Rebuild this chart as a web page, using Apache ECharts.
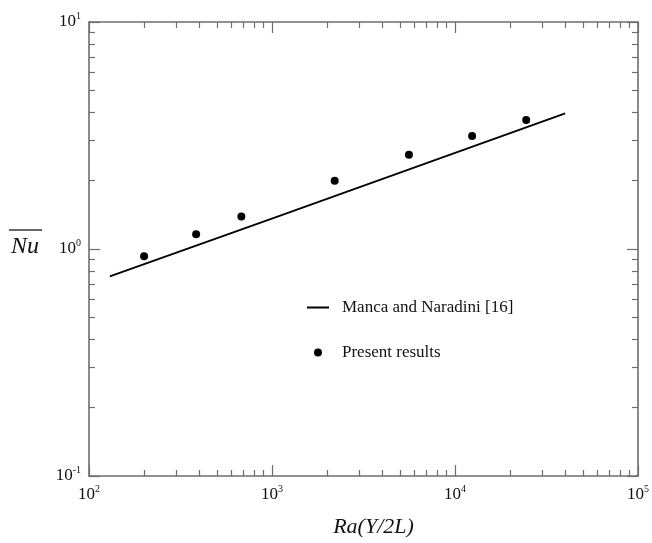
<!DOCTYPE html>
<html>
<head>
<meta charset="utf-8">
<script src="https://cdn.jsdelivr.net/npm/echarts@6/dist/echarts.min.js"></script>
<style>html,body{margin:0;padding:0;background:#fff;}#c{width:652px;height:543px;}</style>
</head>
<body>
<div id="c"></div>
<script>
// Data
const raPresent = [200, 385, 680, 2200, 5600, 12400, 24500];
const nuPresent = [0.93, 1.16, 1.39, 2.0, 2.6, 3.15, 3.7];
const raManca = [130, 1100, 40000];
const nuManca = [0.757, 1.40, 3.96];
const seriesNames = ['Manca and Naradini [16]', 'Present results'];
const xDecades = [2, 3, 4, 5];      // tick labels 10^2 .. 10^5
const yDecades = [-1, 0, 1];        // tick labels 10^-1 .. 10^1
const minorMult = [2, 3, 4, 5, 6, 7, 8, 9];

const FONT = '"Liberation Serif", "DejaVu Serif", serif';
const AX = '#6e6e6e';

function minorLog(decs) {
  const out = [];
  for (let i = 0; i < decs.length - 1; i++)
    for (const m of minorMult) out.push(decs[i] + Math.log10(m));
  return out;
}
const xMinor = minorLog(xDecades);
const yMinor = minorLog(yDecades);

const pow = (v) => '{b|10}{s|' + Math.round(Math.log10(v)) + '}';
const rich = {
  b: {fontFamily: FONT, fontSize: 17, color: '#111', lineHeight: 22},
  s: {fontFamily: FONT, fontSize: 10, color: '#111', lineHeight: 12, verticalAlign: 'top'}
};

function logAxis(dec, pos, withLabels, extra) {
  return Object.assign({
    type: 'log', logBase: 10,
    min: Math.pow(10, dec[0]), max: Math.pow(10, dec[dec.length - 1]),
    position: pos,
    axisLine: {show: true, onZero: false, lineStyle: {color: AX, width: 1.6}},
    axisTick: {show: true, inside: true, length: 11, lineStyle: {color: AX, width: 1.2}},
    axisLabel: withLabels ? {show: true, formatter: pow, rich: rich, margin: 8} : {show: false},
    splitLine: {show: false},
    minorTick: {show: false}
  }, extra || {});
}
function minorAxis(dec, minors, pos) {
  return {
    type: 'value', min: dec[0], max: dec[dec.length - 1], position: pos,
    axisLine: {show: false, onZero: false},
    axisTick: {show: true, inside: true, length: 6, customValues: minors, lineStyle: {color: AX, width: 1.2}},
    axisLabel: {show: false},
    splitLine: {show: false}
  };
}

const chart = echarts.init(document.getElementById('c'), null, {renderer: 'canvas'});
chart.setOption({
  backgroundColor: '#fff',
  animation: false,
  grid: {left: 89, right: 10, top: 22, bottom: 59, containLabel: false},
  xAxis: [
    logAxis(xDecades, 'bottom', true, {
      name: 'Ra(Y/2L)', nameLocation: 'middle', nameGap: 40,
      nameTextStyle: {fontFamily: FONT, fontSize: 22, fontStyle: 'italic', color: '#111', padding: [0, 0, 0, 20]}
    }),
    logAxis(xDecades, 'top', false),
    minorAxis(xDecades, xMinor, 'bottom'),
    minorAxis(xDecades, xMinor, 'top')
  ],
  yAxis: [
    logAxis(yDecades, 'left', true),
    logAxis(yDecades, 'right', false),
    minorAxis(yDecades, yMinor, 'left'),
    minorAxis(yDecades, yMinor, 'right')
  ],
  legend: {
    orient: 'vertical', left: 307, top: 299, itemGap: 28, padding: 0,
    itemWidth: 22, itemHeight: 8,
    textStyle: {fontFamily: FONT, fontSize: 17, color: '#111', padding: [0, 0, 0, 8]},
    data: [
      {name: seriesNames[0], icon: 'path://M0,0H22V2H0Z'},
      {name: seriesNames[1], icon: 'circle'}
    ]
  },
  graphic: [
    {type: 'text', left: 11, top: 235, style: {text: 'Nu', font: 'italic 24px ' + FONT, fill: '#111'}},
    {type: 'line', shape: {x1: 9, y1: 230, x2: 42, y2: 230}, style: {stroke: '#333', lineWidth: 1.3}}
  ],
  series: [
    {
      name: seriesNames[0], type: 'line', xAxisIndex: 0, yAxisIndex: 0,
      data: raManca.map((r, i) => [r, nuManca[i]]),
      symbol: 'none', lineStyle: {color: '#000', width: 1.8}, itemStyle: {color: '#000'}
    },
    {
      name: seriesNames[1], type: 'scatter', xAxisIndex: 0, yAxisIndex: 0,
      data: raPresent.map((r, i) => [r, nuPresent[i]]),
      symbol: 'circle', symbolSize: 8, itemStyle: {color: '#000', opacity: 1}
    }
  ]
});
</script>
</body>
</html>
